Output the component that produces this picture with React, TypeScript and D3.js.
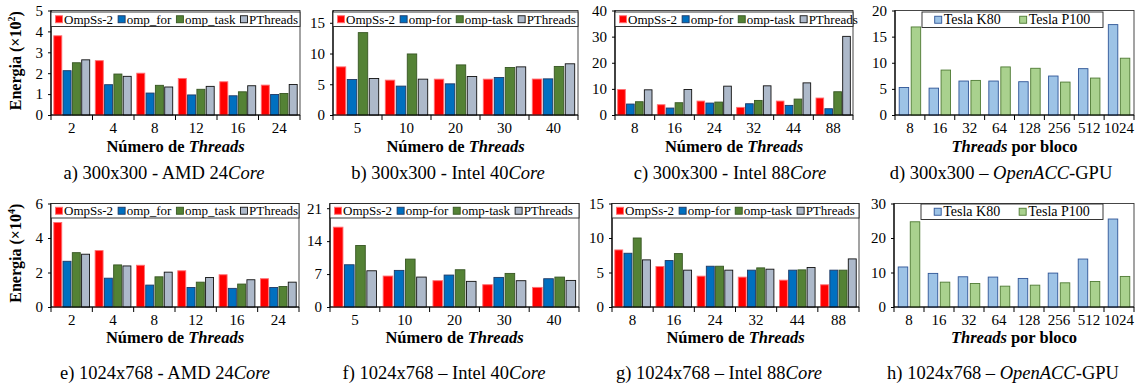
import React, { useEffect, useRef } from 'react';
import * as d3 from 'd3';

// series names
const namesUnderscore = ['OmpSs-2', 'omp_for', 'omp_task', 'PThreads'];
const namesDash = ['OmpSs-2', 'omp-for', 'omp-task', 'PThreads'];
const namesGpu = ['Tesla K80', 'Tesla P100'];

// categories
const threadsAmd = ['2', '4', '8', '12', '16', '24'];
const threadsIntel40 = ['5', '10', '20', '30', '40'];
const threadsIntel88 = ['8', '16', '24', '32', '44', '88'];
const threadsPerBlock = ['8', '16', '32', '64', '128', '256', '512', '1024'];

// a) 300x300 - AMD 24Core (x10^2)
const amd300 = [
  [3.79, 2.6, 2.0, 1.75, 1.59, 1.43],
  [2.12, 1.45, 1.05, 0.96, 0.92, 0.98],
  [2.5, 1.96, 1.42, 1.23, 1.11, 1.03],
  [2.64, 1.85, 1.34, 1.37, 1.4, 1.46],
];
// b) 300x300 - Intel 40Core
const intel40_300 = [
  [7.83, 5.67, 5.83, 5.83, 5.85],
  [5.77, 4.7, 5.07, 6.1, 5.88],
  [13.4, 9.93, 8.15, 7.72, 7.9],
  [5.94, 5.83, 6.26, 7.83, 8.33],
];
// c) 300x300 - Intel 88Core
const intel88_300 = [
  [9.77, 3.93, 5.33, 2.92, 5.33, 6.5],
  [4.19, 2.66, 4.57, 4.31, 3.68, 2.4],
  [5.08, 4.7, 4.95, 5.58, 6.09, 8.9],
  [9.64, 9.77, 11.04, 11.17, 12.3, 30.1],
];
// d) 300x300 - OpenACC-GPU
const gpu300 = [
  [5.27, 5.14, 6.5, 6.5, 6.37, 7.46, 8.87, 17.3],
  [16.85, 8.6, 6.62, 9.2, 8.94, 6.3, 7.07, 10.87],
];
// e) 1024x768 - AMD 24Core (x10^4)
const amd1024 = [
  [4.9, 3.27, 2.42, 2.1, 1.87, 1.64],
  [2.65, 1.67, 1.27, 1.13, 1.08, 1.13],
  [3.15, 2.44, 1.75, 1.44, 1.33, 1.19],
  [3.06, 2.38, 2.02, 1.71, 1.58, 1.44],
];
// f) 1024x768 - Intel 40Core
const intel40_1024 = [
  [16.97, 6.58, 5.59, 4.74, 4.17],
  [8.98, 7.78, 6.79, 6.29, 6.01],
  [13.08, 10.18, 7.92, 7.14, 6.36],
  [7.7, 6.36, 5.45, 5.59, 5.65],
];
// g) 1024x768 - Intel 88Core
const intel88_1024 = [
  [8.27, 5.87, 4.47, 4.33, 3.89, 3.22],
  [7.79, 6.73, 5.91, 5.34, 5.34, 5.34],
  [10.0, 7.74, 5.91, 5.67, 5.38, 5.34],
  [6.83, 5.34, 5.34, 5.48, 5.72, 6.97],
];
// h) 1024x768 - OpenACC-GPU
const gpu1024 = [
  [11.6, 9.74, 8.76, 8.67, 8.28, 9.83, 13.9, 25.5],
  [24.7, 7.2, 6.8, 6.04, 6.33, 7.01, 7.4, 8.86],
];

const cpuFill = ['#ff0000', '#0070c0', '#548235', '#adb9ca'];
const cpuStroke = ['#ff6f73', '#1f3864', '#375623', '#111111'];
const gpuFill = ['#9dc3e6', '#a9d18e'];
const gpuStroke = ['#2f5597', '#4e7a33'];

type Seg = [string, boolean];
interface PanelDef {
  cats: string[];
  names: string[];
  values: number[][];
  max: number;
  ticks: number[];
  x0: number;
  x1: number;
  row: 0 | 1;
  gpu: boolean;
  caption: Seg[];
  capX: number;
  yLabel?: string;
}

const rows = [
  { top: 10.5, bottom: 115, capY: 179, titleDy: 37 },
  { top: 203.5, bottom: 307, capY: 379, titleDy: 36 },
];

const panels: PanelDef[] = [
  { cats: threadsAmd, names: namesUnderscore, values: amd300, max: 5, ticks: [0, 1, 2, 3, 4, 5], x0: 51, x1: 300, row: 0, gpu: false, caption: [['a) 300x300 - AMD 24', false], ['Core', true]], capX: 164, yLabel: '2' },
  { cats: threadsIntel40, names: namesDash, values: intel40_300, max: 17, ticks: [0, 5, 10, 15], x0: 333, x1: 578, row: 0, gpu: false, caption: [['b) 300x300 - Intel 40', false], ['Core', true]], capX: 448 },
  { cats: threadsIntel88, names: namesDash, values: intel88_300, max: 40, ticks: [0, 10, 20, 30, 40], x0: 615, x1: 853, row: 0, gpu: false, caption: [['c) 300x300 - Intel 88', false], ['Core', true]], capX: 730 },
  { cats: threadsPerBlock, names: namesGpu, values: gpu300, max: 20, ticks: [0, 5, 10, 15, 20], x0: 895, x1: 1134, row: 0, gpu: true, caption: [['d) 300x300 – ', false], ['OpenACC', true], ['-GPU', false]], capX: 1001 },
  { cats: threadsAmd, names: namesUnderscore, values: amd1024, max: 6, ticks: [0, 2, 4, 6], x0: 51, x1: 299, row: 1, gpu: false, caption: [['e) 1024x768 - AMD 24', false], ['Core', true]], capX: 165, yLabel: '4' },
  { cats: threadsIntel40, names: namesDash, values: intel40_1024, max: 22, ticks: [0, 7, 14, 21], x0: 330, x1: 579, row: 1, gpu: false, caption: [['f) 1024x768 – Intel 40', false], ['Core', true]], capX: 444 },
  { cats: threadsIntel88, names: namesDash, values: intel88_1024, max: 15, ticks: [0, 5, 10, 15], x0: 612, x1: 859, row: 1, gpu: false, caption: [['g) 1024x768 – Intel 88', false], ['Core', true]], capX: 719 },
  { cats: threadsPerBlock, names: namesGpu, values: gpu1024, max: 30, ticks: [0, 10, 20, 30], x0: 894, x1: 1134, row: 1, gpu: true, caption: [['h) 1024x768 – ', false], ['OpenACC', true], ['-GPU', false]], capX: 1003 },
];

const FONT = "'Liberation Serif', 'DejaVu Serif', serif";

export default function App() {
  const svgRef = useRef<SVGSVGElement>(null);

  useEffect(() => {
    document.body.style.margin = '0';
    if (!svgRef.current) return;
    const svg = d3.select(svgRef.current);
    svg.selectAll('*').remove();

    panels.forEach((p) => {
      const { top, bottom, capY, titleDy } = rows[p.row];
      const fills = p.gpu ? gpuFill : cpuFill;
      const strokes = p.gpu ? gpuStroke : cpuStroke;
      const g = svg.append('g');

      const y = d3.scaleLinear().domain([0, p.max]).range([bottom, top]);
      const x0 = d3.scaleBand<string>().domain(p.cats).range([p.x0, p.x1]);
      const x1 = d3.scaleBand<number>()
        .domain(p.names.map((_, i) => i))
        .range([0, x0.bandwidth()])
        .paddingInner(p.gpu ? 0.21 : 0.14)
        .paddingOuter(p.gpu ? 0.35 : 0.3);

      // plot frame
      g.append('rect')
        .attr('x', p.x0).attr('y', top)
        .attr('width', p.x1 - p.x0).attr('height', bottom - top)
        .attr('fill', 'none').attr('stroke', '#333').attr('stroke-width', 0.9);

      // bars
      p.values.forEach((vals, si) => {
        g.append('g').selectAll('rect')
          .data(vals)
          .join('rect')
          .attr('x', (_, i) => (x0(p.cats[i]) as number) + (x1(si) as number))
          .attr('y', (d) => y(d))
          .attr('width', x1.bandwidth())
          .attr('height', (d) => bottom - y(d))
          .attr('fill', fills[si])
          .attr('stroke', strokes[si])
          .attr('stroke-width', 0.9);
      });

      // y axis
      const yAxis = g.append('g')
        .attr('transform', `translate(${p.x0},0)`)
        .call(d3.axisLeft(y).tickValues(p.ticks).tickSize(3).tickPadding(5).tickFormat(d3.format('d')));
      yAxis.attr('font-family', null).attr('font-size', null);
      yAxis.select('.domain').remove();
      yAxis.selectAll('text').style('font-size', '15px').style('font-family', FONT).attr('fill', '#000');
      yAxis.selectAll('line').attr('stroke', '#000');
      g.append('line')
        .attr('x1', p.x0).attr('x2', p.x0).attr('y1', top).attr('y2', bottom)
        .attr('stroke', '#000').attr('stroke-width', 1.2);

      // x axis
      g.append('line')
        .attr('x1', p.x0).attr('x2', p.x1).attr('y1', bottom).attr('y2', bottom)
        .attr('stroke', '#000').attr('stroke-width', 1.2);
      const bounds = p.cats.map((c) => x0(c) as number).concat([p.x1]);
      g.append('g').selectAll('line')
        .data(bounds)
        .join('line')
        .attr('x1', (d) => d).attr('x2', (d) => d)
        .attr('y1', bottom).attr('y2', bottom + 5)
        .attr('stroke', '#000').attr('stroke-width', 1);
      g.append('g').selectAll('text')
        .data(p.cats)
        .join('text')
        .attr('x', (d) => (x0(d) as number) + x0.bandwidth() / 2)
        .attr('y', bottom + 17.5)
        .attr('text-anchor', 'middle')
        .style('font-size', '15px')
        .style('font-family', FONT)
        .text((d) => d);

      // x title
      const title = g.append('text')
        .attr('x', (p.x0 + p.x1) / 2)
        .attr('y', bottom + titleDy)
        .attr('text-anchor', 'middle')
        .style('font-size', '16.5px')
        .style('font-weight', 'bold')
        .style('font-family', FONT);
      if (p.gpu) {
        title.append('tspan').style('font-style', 'italic').text('Threads');
        title.append('tspan').text(' por bloco');
      } else {
        title.append('tspan').text('Número de ');
        title.append('tspan').style('font-style', 'italic').text('Threads');
      }

      // caption
      const cap = g.append('text')
        .attr('x', p.capX)
        .attr('y', capY)
        .attr('text-anchor', 'middle')
        .style('font-size', '18.5px')
        .style('font-family', FONT);
      p.caption.forEach(([t, it]) => {
        cap.append('tspan').style('font-style', it ? 'italic' : 'normal').text(t);
      });

      // y label
      if (p.yLabel) {
        const yl = g.append('text')
          .attr('transform', `translate(21,${(top + bottom) / 2 - 2}) rotate(-90)`)
          .attr('text-anchor', 'middle')
          .style('font-size', '16px')
          .style('font-weight', 'bold')
          .style('font-family', FONT);
        yl.append('tspan').text('Energia (×10');
        yl.append('tspan').style('font-size', '10px').attr('dy', -6).text(p.yLabel);
        yl.append('tspan').attr('dy', 6).text(')');
      }

      // legend
      const lg = g.append('g');
      if (p.gpu) {
        const bx0 = p.x0 + 27;
        const bx1 = p.x1 - 31;
        const by = top + (p.row === 0 ? 1.5 : 0.5);
        const bh = 15.5;
        lg.append('rect')
          .attr('x', bx0).attr('y', by).attr('width', bx1 - bx0).attr('height', bh)
          .attr('fill', '#fff').attr('stroke', '#222').attr('stroke-width', 0.9);
        const items = p.names.map((n, i) => {
          const it = lg.append('g');
          it.append('rect').attr('width', 7).attr('height', 7)
            .attr('fill', fills[i]).attr('stroke', strokes[i]).attr('stroke-width', 0.9);
          const t = it.append('text').attr('x', 9).attr('y', 7.5)
            .style('font-size', '14px').style('font-family', FONT).text(n);
          const w = (t.node() as SVGTextElement).getComputedTextLength();
          return { it, w: 9 + w };
        });
        const gap = 19;
        const total = d3.sum(items, (d) => d.w) + gap * (items.length - 1);
        let cx = (bx0 + bx1) / 2 - total / 2;
        items.forEach((d) => {
          d.it.attr('transform', `translate(${cx},${by + bh / 2 - 3.5})`);
          cx += d.w + gap;
        });
      } else {
        const by = top + (p.row === 0 ? 1.5 : 0);
        const bh = 14.5;
        lg.append('rect')
          .attr('x', p.x0).attr('y', by).attr('width', p.x1 - p.x0).attr('height', bh)
          .attr('fill', '#fff').attr('stroke', '#222').attr('stroke-width', 0.9);
        let cx = p.x0 + 4.5;
        p.names.forEach((n, i) => {
          lg.append('rect')
            .attr('x', cx).attr('y', by + bh / 2 - 3.5).attr('width', 7).attr('height', 7)
            .attr('fill', fills[i]).attr('stroke', strokes[i]).attr('stroke-width', 0.9);
          const t = lg.append('text')
            .attr('x', cx + 8.5).attr('y', by + bh / 2 + 4.5)
            .style('font-size', '13px').style('font-family', FONT).text(n);
          const w = (t.node() as SVGTextElement).getComputedTextLength();
          cx += 8.5 + w + 5;
        });
      }
    });
  }, []);

  return (
    <svg ref={svgRef} width={1137} height={387} style={{ display: 'block', background: '#fff', fontFamily: FONT }} />
  );
}
